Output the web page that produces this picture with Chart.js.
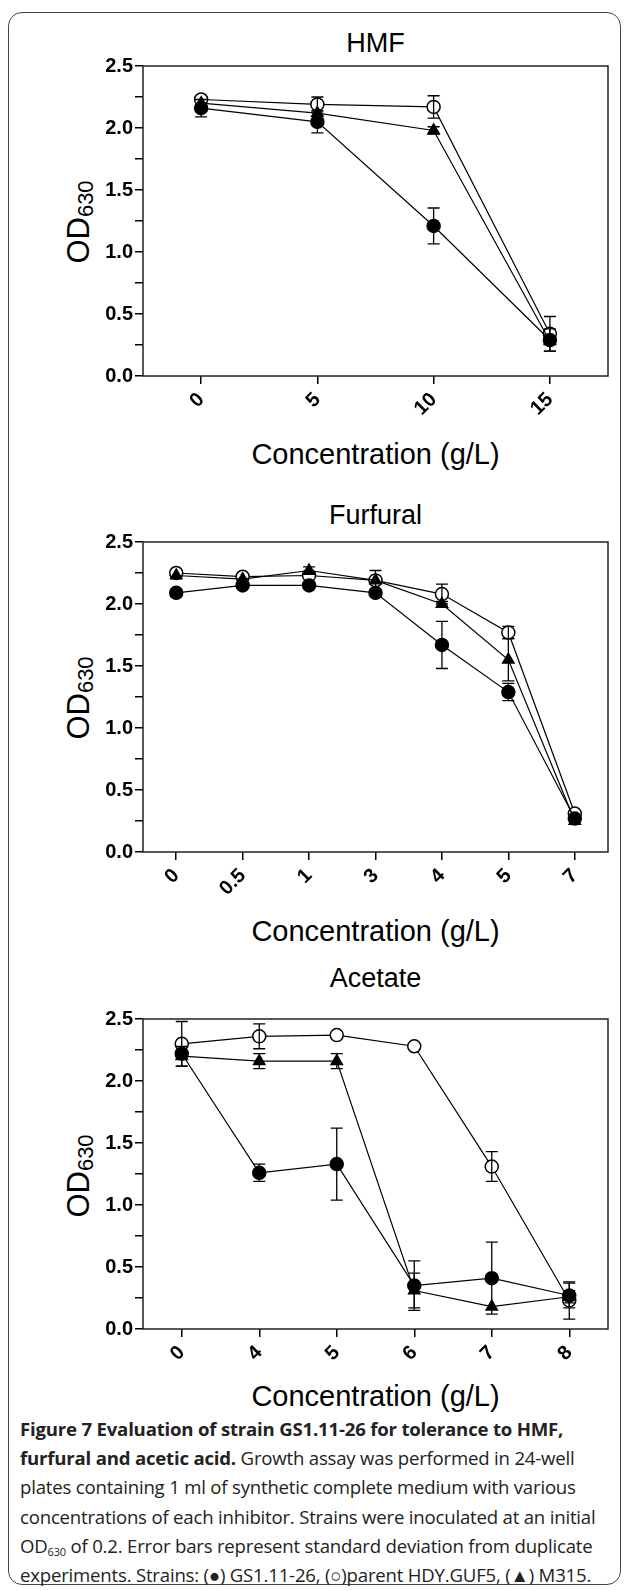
<!DOCTYPE html>
<html>
<head>
<meta charset="utf-8">
<script src="https://cdn.jsdelivr.net/npm/chart.js@4/dist/chart.umd.min.js"></script>
<style>
  body { margin: 0; background: #fff; width: 629px; height: 1591px; position: relative; overflow: hidden; font-family: "Liberation Sans", Arial, sans-serif; }
  #frame { position: absolute; left: 8px; top: 12px; width: 611px; height: 1571px; border: 1.5px solid #444; border-radius: 14px; }
  .panel { position: absolute; left: 0; width: 629px; }
  .ttl { position: absolute; left: 143px; width: 465px; text-align: center; font-size: 27px; color: #000; }
  .xt { position: absolute; left: 143px; width: 465px; text-align: center; font-size: 29px; color: #000; }
  .yt { position: absolute; font-size: 31px; color: #000; transform: rotate(-90deg); transform-origin: center; white-space: nowrap; width: 160px; text-align: center; }
  .yt sub { font-size: 22px; vertical-align: -4px; }
  #caption { position: absolute; left: 20px; top: 1414px; width: 600px; font-family: "Open Sans", sans-serif; font-size: 18.6px; line-height: 29.2px; color: #222; white-space: nowrap; letter-spacing: -0.2px; }
  #caption sub { font-size: 11px; vertical-align: -3px; line-height: 0; }
</style>
</head>
<body>
<div id="frame"></div>

<div class="ttl" style="top:28px">HMF</div>
<div class="xt" style="top:438px">Concentration (g/L)</div>
<div class="ttl" style="top:500px">Furfural</div>
<div class="xt" style="top:915px">Concentration (g/L)</div>
<div class="ttl" style="top:963px">Acetate</div>
<div class="xt" style="top:1380px">Concentration (g/L)</div>

<div class="yt" style="left:0px;top:203px">OD<sub>630</sub></div>
<div class="yt" style="left:0px;top:679px">OD<sub>630</sub></div>
<div class="yt" style="left:0px;top:1157px">OD<sub>630</sub></div>

<canvas id="c1" class="panel"></canvas>
<canvas id="c2" class="panel"></canvas>
<canvas id="c3" class="panel"></canvas>

<div id="caption">
<b>Figure 7 Evaluation of strain GS1.11-26 for tolerance to HMF,</b><br>
<b>furfural and acetic acid.</b> Growth assay was performed in 24-well<br>
plates containing 1 ml of synthetic complete medium with various<br>
concentrations of each inhibitor. Strains were inoculated at an initial<br>
OD<sub>630</sub> of 0.2. Error bars represent standard deviation from duplicate<br>
experiments. Strains: (●) GS1.11-26, (○)parent HDY.GUF5, (▲) M315.
</div>

<script>
// HMF
const hmfLabels = ["0", "5", "10", "15"];
const hmfFilled = [2.16, 2.05, 1.21, 0.29];
const hmfFilledErr = [0.07, 0.09, 0.145, 0.09];
const hmfOpen = [2.23, 2.19, 2.17, 0.34];
const hmfOpenErr = [0, 0.06, 0.09, 0.14];
const hmfTri = [2.20, 2.12, 1.98, 0.28];
const hmfTriErr = [0, 0, 0.03, 0];

// Furfural
const furLabels = ["0", "0.5", "1", "3", "4", "5", "7"];
const furFilled = [2.09, 2.15, 2.15, 2.09, 1.67, 1.29, 0.27];
const furFilledErr = [0.03, 0, 0, 0, 0.19, 0.07, 0];
const furOpen = [2.25, 2.22, 2.23, 2.19, 2.08, 1.77, 0.31];
const furOpenErr = [0, 0, 0, 0.08, 0.08, 0.05, 0];
const furTri = [2.23, 2.20, 2.27, 2.19, 2.00, 1.55, 0.25];
const furTriErr = [0, 0, 0.03, 0, 0.02, 0.17, 0];

// Acetate
const aceLabels = ["0", "4", "5", "6", "7", "8"];
const aceFilled = [2.22, 1.26, 1.33, 0.35, 0.41, 0.27];
const aceFilledErr = [0, 0.07, 0.29, 0.2, 0.29, 0.1];
const aceOpen = [2.30, 2.36, 2.37, 2.28, 1.31, 0.23];
const aceOpenErr = [0.18, 0.1, 0, 0, 0.12, 0.15];
const aceTri = [2.20, 2.16, 2.16, 0.31, 0.18, 0.26];
const aceTriErr = [0.08, 0.06, 0.06, 0.14, 0, 0.05];

// error bars + plot box
const extras = {
  id: "extras",
  afterDatasetsDraw(chart) {
    const ctx = chart.ctx;
    const y = chart.scales.y;
    ctx.save();
    ctx.strokeStyle = "#000";
    ctx.lineWidth = 1.3;
    chart.data.datasets.forEach((ds, di) => {
      const meta = chart.getDatasetMeta(di);
      ds.errors.forEach((e, i) => {
        if (!e) return;
        const px = meta.data[i].x;
        const top = y.getPixelForValue(ds.data[i] + e);
        const bot = y.getPixelForValue(ds.data[i] - e);
        ctx.beginPath();
        ctx.moveTo(px, top); ctx.lineTo(px, bot);
        ctx.moveTo(px - 6, top); ctx.lineTo(px + 6, top);
        ctx.moveTo(px - 6, bot); ctx.lineTo(px + 6, bot);
        ctx.stroke();
      });
    });
    ctx.restore();
  },
  afterDraw(chart) {
    const a = chart.chartArea;
    const ctx = chart.ctx;
    ctx.save();
    ctx.strokeStyle = "#222";
    ctx.lineWidth = 1.5;
    ctx.strokeRect(a.left, a.top, a.right - a.left, a.bottom - a.top);
    ctx.restore();
  }
};

function series(data, errs, style, fill) {
  return {
    data: data,
    errors: errs,
    borderColor: "#000",
    borderWidth: 1.2,
    pointStyle: style,
    pointRadius: 6.5,
    pointBackgroundColor: fill,
    pointBorderColor: "#000",
    pointBorderWidth: 1.5,
    tension: 0,
  };
}

function makePanel(id, top, labels, filled, filledErr, open, openErr, tri, triErr) {
  const canvas = document.getElementById(id);
  const plotTop = 30, plotH = 310, below = 70;
  canvas.style.top = (top - plotTop) + "px";
  canvas.width = 629;
  canvas.height = plotTop + plotH + below;
  canvas.style.width = "629px";
  canvas.style.height = canvas.height + "px";

  new Chart(canvas, {
    type: "line",
    data: {
      labels: labels,
      datasets: [
        series(tri, triErr, "triangle", "#000"),
        series(filled, filledErr, "circle", "#000"),
        series(open, openErr, "circle", "#fff"),
      ],
    },
    plugins: [extras],
    options: {
      responsive: false,
      animation: false,
      devicePixelRatio: 1,
      layout: { padding: { top: plotTop, right: 21, left: 0, bottom: 0 } },
      plugins: { legend: { display: false }, tooltip: { enabled: false } },
      scales: {
        x: {
          offset: true,
          afterFit: (s) => { s.height = below; },
          grid: { display: true, drawOnChartArea: false, tickLength: 8, color: "#000", lineWidth: 1.5 },
          border: { display: false },
          ticks: {
            minRotation: 45, maxRotation: 45, color: "#000", padding: 4,
            font: { family: "Liberation Sans", weight: "bold", size: 20 },
          },
        },
        y: {
          min: 0, max: 2.5,
          afterFit: (s) => { s.width = 143; },
          grid: { display: true, drawOnChartArea: false, tickLength: 8, color: "#000", lineWidth: 1.5 },
          border: { display: false },
          ticks: {
            stepSize: 0.25, autoSkip: false, color: "#000", padding: 2,
            font: { family: "Liberation Sans", weight: "bold", size: 20 },
            callback: (v) => (Math.round(v * 100) % 50 === 0 ? v.toFixed(1) : ""),
          },
        },
      },
    },
  });
}

makePanel("c1", 66, hmfLabels, hmfFilled, hmfFilledErr, hmfOpen, hmfOpenErr, hmfTri, hmfTriErr);
makePanel("c2", 542, furLabels, furFilled, furFilledErr, furOpen, furOpenErr, furTri, furTriErr);
makePanel("c3", 1019, aceLabels, aceFilled, aceFilledErr, aceOpen, aceOpenErr, aceTri, aceTriErr);
</script>
</body>
</html>
